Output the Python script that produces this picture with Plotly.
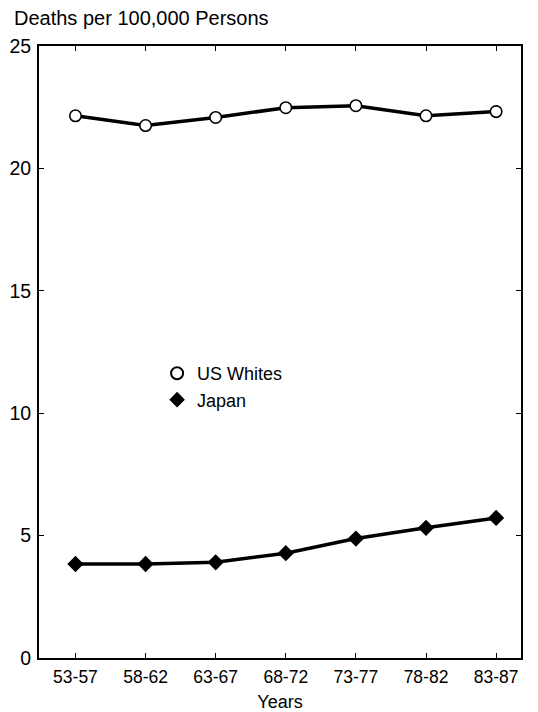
import plotly.graph_objects as go

periods = ["53-57", "58-62", "63-67", "68-72", "73-77", "78-82", "83-87"]
us_whites = [22.15, 21.75, 22.08, 22.48, 22.56, 22.15, 22.32]
japan = [3.84, 3.84, 3.91, 4.28, 4.88, 5.32, 5.72]
y_ticks = [0, 5, 10, 15, 20, 25]

idx = list(range(len(periods)))
font = "Liberation Sans, Arial, sans-serif"

circle_marker = dict(symbol="circle", size=11.5, color="white", line=dict(color="black", width=1.6))
diamond_marker = dict(symbol="diamond", size=12.5, color="black", line=dict(color="black", width=0))

fig = go.Figure()
fig.add_trace(go.Scatter(
    x=idx, y=us_whites, mode="lines+markers", name="US Whites", showlegend=False,
    line=dict(color="black", width=3.5), marker=circle_marker,
))
fig.add_trace(go.Scatter(
    x=idx, y=japan, mode="lines+markers", name="Japan", showlegend=False,
    line=dict(color="black", width=3.5), marker=diamond_marker,
))
# legend entries (marker only)
fig.add_trace(go.Scatter(x=[None], y=[None], mode="markers", name="US Whites", marker=circle_marker))
fig.add_trace(go.Scatter(x=[None], y=[None], mode="markers", name="Japan", marker=diamond_marker))

fig.update_layout(
    width=530, height=704,
    margin=dict(l=31, r=17, t=38, b=54),
    paper_bgcolor="white", plot_bgcolor="white",
    font=dict(family=font, size=18, color="black"),
    showlegend=True,
    legend=dict(x=0.245, y=0.495, xanchor="left", yanchor="top",
                bgcolor="rgba(0,0,0,0)", font=dict(size=18, color="black"),
                itemsizing="constant", tracegroupgap=0, itemwidth=30),
    xaxis=dict(
        range=[-0.52, 6.355], tickmode="array", tickvals=idx, ticktext=periods,
        showgrid=False, zeroline=False, showline=True, linecolor="black", linewidth=2,
        mirror="ticks", ticks="inside", ticklen=5, tickcolor="black", tickwidth=1,
        tickfont=dict(size=17.5), ticklabelstandoff=2, automargin=False,
        title=dict(text="Years", font=dict(size=18), standoff=10),
    ),
    yaxis=dict(
        range=[0, 25], tickmode="array", tickvals=y_ticks,
        showgrid=False, zeroline=False, showline=True, linecolor="black", linewidth=2,
        mirror="ticks", ticks="inside", ticklen=5, tickcolor="black", tickwidth=1,
        tickfont=dict(size=19.5), ticklabelstandoff=2, automargin=False,
    ),
    annotations=[dict(
        text="Deaths per 100,000 Persons", xref="paper", yref="paper",
        x=-0.056, y=1.0458, xanchor="left", yanchor="middle", showarrow=False,
        font=dict(size=20, color="black"),
    )],
)

fig.write_html("out.html")
